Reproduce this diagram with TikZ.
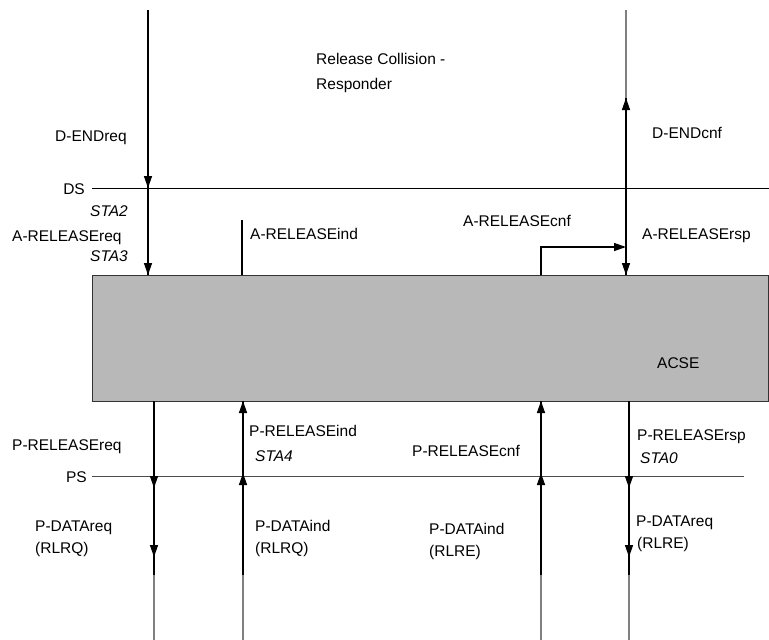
\documentclass[tikz,border=0pt]{standalone}
\usepackage{fontspec}
\setmainfont{Liberation Sans}
\usetikzlibrary{arrows.meta}
\begin{document}
\begin{tikzpicture}[x=1pt,y=-1pt,
  lbl/.style={anchor=base west, inner sep=0pt, font=\fontsize{15.5}{18}\selectfont},
  lblr/.style={lbl, anchor=base east},
  ital/.style={font=\fontsize{15.5}{18}\selectfont\itshape},
  sig/.style={line width=1.4pt, black},
  faint/.style={line width=1.4pt, black!50},
  arr/.style={-{Triangle[length=12pt,width=8pt]}},
  layer/.style={line width=0.9pt}
]
\useasboundingbox (0,0) rectangle (769,640);
% ACSE box
\node[draw=black!80, fill=black!28, line width=1pt, minimum width=676pt, minimum height=126pt, inner sep=0pt, anchor=north west] (acse) at (92,275) {};
% layer lines
\coordinate (dsL) at (92,188);
\coordinate (dsR) at (769,188);
\coordinate (psL) at (92,476);
\coordinate (psR) at (744,476);
\draw[layer, black] (dsL) -- (dsR);
\draw[layer, black!70] (psL) -- (psR);
\node[lbl, anchor=base east] (ds) at (85,194) {DS};
\node[lbl, anchor=base east] (ps) at (87,482) {PS};
% title
\node[lbl] (t1) at (316,64) {Release Collision -};
\node[lbl] (t2) at (316,89) {Responder};
% left top line
\coordinate (a1) at (148,10);
\coordinate (a2) at (148,188);
\coordinate (a3) at (148,275);
\draw[sig] (a1) -- (a3);
\draw[sig,arr] (a1) -- (a2);
\draw[sig,arr] (a2) -- (a3);
% A-RELEASEind stub
\coordinate (b1) at (242,220);
\coordinate (b2) at (242,275);
\draw[sig] (b1) -- (b2);
% right top line
\coordinate (c0) at (626,10);
\coordinate (c1) at (626,98);
\coordinate (c2) at (626,188);
\coordinate (c3) at (626,275);
\coordinate (c4) at (626,247);
\draw[faint] (c0) -- (c1);
\draw[sig] (c1) -- (c3);
\draw[sig,arr] (c2) -- (c1);
\draw[sig,arr] (c2) -- (c3);
% A-RELEASEcnf
\coordinate (d1) at (541,275);
\draw[sig,arr] (d1) |- (c4);
% bottom lines
\foreach \n/\x in {e/154, h/629} {
  \coordinate (\n1) at (\x,401);
  \coordinate (\n2) at (\x,488);
  \coordinate (\n3) at (\x,557);
  \coordinate (\n4) at (\x,575);
  \coordinate (\n5) at (\x,640);
  \draw[sig] (\n1) -- (\n4);
  \draw[faint] (\n4) -- (\n5);
  \draw[sig,arr] (\n1) -- (\n2);
  \draw[sig,arr] (\n2) -- (\n3);
}
\foreach \n/\x in {f/243, g/541} {
  \coordinate (\n1) at (\x,401);
  \coordinate (\n2) at (\x,473);
  \coordinate (\n4) at (\x,575);
  \coordinate (\n5) at (\x,640);
  \draw[faint] (\n5) -- (\n4);
  \draw[sig] (\n4) -- (\n1);
  \draw[sig,arr] (\n4) -- (\n2);
  \draw[sig,arr] (\n2) -- (\n1);
}
% labels top
\node[lbl] (dendreq) at (55,141) {D-ENDreq};
\node[lbl] (dendcnf) at (652,138) {D-ENDcnf};
\node[lblr, ital] (sta2) at (128,216) {STA2};
\node[lbl] (arelreq) at (12,241) {A-RELEASEreq};
\node[lblr, ital] (sta3) at (128,261) {STA3};
\node[lbl] (arelind) at (250,239) {A-RELEASEind};
\node[lbl] (arelcnf) at (463,226) {A-RELEASEcnf};
\node[lbl] (arelrsp) at (642,239) {A-RELEASErsp};
\node[lbl] (acsel) at (657,368) {ACSE};
% labels bottom
\node[lbl] (prelreq) at (12,450) {P-RELEASEreq};
\node[lbl] (prelind) at (249,436) {P-RELEASEind};
\node[lbl, ital] (sta4) at (255,461) {STA4};
\node[lbl] (pdreq1) at (35,531) {P-DATAreq};
\node[lbl] (rlrq1) at (35,553) {(RLRQ)};
\node[lbl] (pdind1) at (255,531) {P-DATAind};
\node[lbl] (rlrq2) at (255,553) {(RLRQ)};
\node[lbl] (prelcnf) at (412,456) {P-RELEASEcnf};
\node[lbl] (prelrsp) at (637,440) {P-RELEASErsp};
\node[lbl, ital] (sta0) at (640,463) {STA0};
\node[lbl] (pdind2) at (429,534) {P-DATAind};
\node[lbl] (rlre1) at (429,556) {(RLRE)};
\node[lbl] (pdreq2) at (636,526) {P-DATAreq};
\node[lbl] (rlre2) at (637,548) {(RLRE)};
\end{tikzpicture}
\end{document}
